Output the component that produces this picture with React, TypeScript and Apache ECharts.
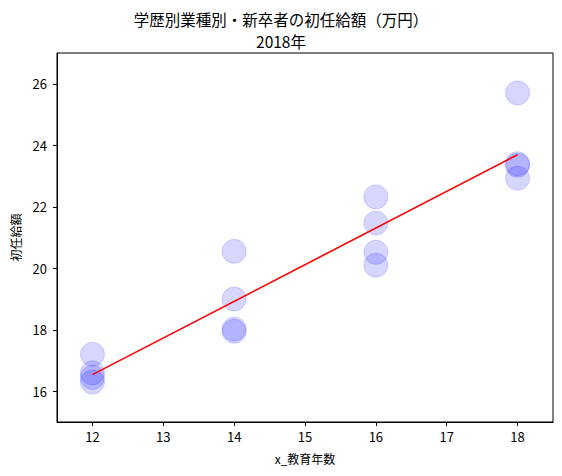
import React, { useEffect, useRef } from "react";
import * as echarts from "echarts";

const titleText = "学歴別業種別・新卒者の初任給額（万円）\n2018年";
const xName = "x_教育年数";
const yName = "初任給額";

const educationYears = [12, 12, 12, 12, 14, 14, 14, 14, 16, 16, 16, 16, 18, 18, 18, 18];
const startingSalary = [17.2, 16.6, 16.45, 16.3, 20.55, 19.0, 18.02, 17.95, 22.32, 21.47, 20.52, 20.1, 25.7, 23.4, 23.35, 22.93];

const xRange = [11.5, 18.5];
const yRange = [15, 27];
const xTickValues = [12, 13, 14, 15, 16, 17, 18];
const yTickValues = [16, 18, 20, 22, 24, 26];

function fitLine(xs: number[], ys: number[]) {
  const n = xs.length;
  const mx = xs.reduce((a, b) => a + b, 0) / n;
  const my = ys.reduce((a, b) => a + b, 0) / n;
  let sxy = 0, sxx = 0;
  for (let i = 0; i < n; i++) {
    sxy += (xs[i] - mx) * (ys[i] - my);
    sxx += (xs[i] - mx) * (xs[i] - mx);
  }
  const b = sxy / sxx;
  const a = my - b * mx;
  const x0 = Math.min(...xs);
  const x1 = Math.max(...xs);
  return [[x0, a + b * x0], [x1, a + b * x1]];
}

export default function App() {
  const ref = useRef<HTMLDivElement>(null);
  useEffect(() => {
    document.body.style.margin = "0";
    const chart = echarts.init(ref.current!, undefined, { renderer: "svg" });
    const font = "'Noto Sans CJK JP', 'DejaVu Sans', sans-serif";
    chart.setOption({
      animation: false,
      textStyle: { fontFamily: font },
      title: {
        text: titleText,
        left: "center",
        top: 3,
        textStyle: { fontSize: 15.5, fontWeight: "normal", color: "#000", lineHeight: 22, fontFamily: font },
      },
      grid: { left: 57, right: 9, top: 53, bottom: 54, show: true, borderColor: "#000", borderWidth: 1, containLabel: false },
      xAxis: {
        type: "value",
        min: xRange[0],
        max: xRange[1],
        name: xName,
        nameLocation: "middle",
        nameGap: 30,
        nameTextStyle: { fontSize: 12, color: "#000", fontFamily: font },
        axisLine: { show: true, lineStyle: { color: "#000", width: 1 } },
        axisTick: { show: true, length: 4, lineStyle: { color: "#000" }, customValues: xTickValues },
        axisLabel: {
          fontSize: 13,
          color: "#000",
          margin: 8,
          fontFamily: font,
          customValues: xTickValues,
        },
        splitLine: { show: false },
      },
      yAxis: {
        type: "value",
        min: yRange[0],
        max: yRange[1],
        name: yName,
        nameLocation: "middle",
        nameGap: 34,
        nameRotate: 90,
        nameTextStyle: { fontSize: 12, color: "#000", fontFamily: font },
        axisLine: { show: true, lineStyle: { color: "#000", width: 1 } },
        axisTick: { show: true, length: 4, lineStyle: { color: "#000" }, customValues: yTickValues },
        axisLabel: {
          fontSize: 13,
          color: "#000",
          margin: 10,
          fontFamily: font,
          customValues: yTickValues,
        },
        splitLine: { show: false },
      },
      series: [
        {
          type: "scatter",
          symbolSize: 24,
          data: educationYears.map((x, i) => [x, startingSalary[i]]),
          itemStyle: { color: "rgba(0,0,255,0.2)", borderColor: "rgba(0,0,255,0.2)", borderWidth: 1 },
          z: 2,
        },
        {
          type: "line",
          data: fitLine(educationYears, startingSalary),
          symbol: "none",
          lineStyle: { color: "#ff0000", width: 1.6 },
          z: 3,
        },
      ],
    });
    return () => chart.dispose();
  }, []);
  return <div ref={ref} style={{ width: 562, height: 476 }} />;
}
